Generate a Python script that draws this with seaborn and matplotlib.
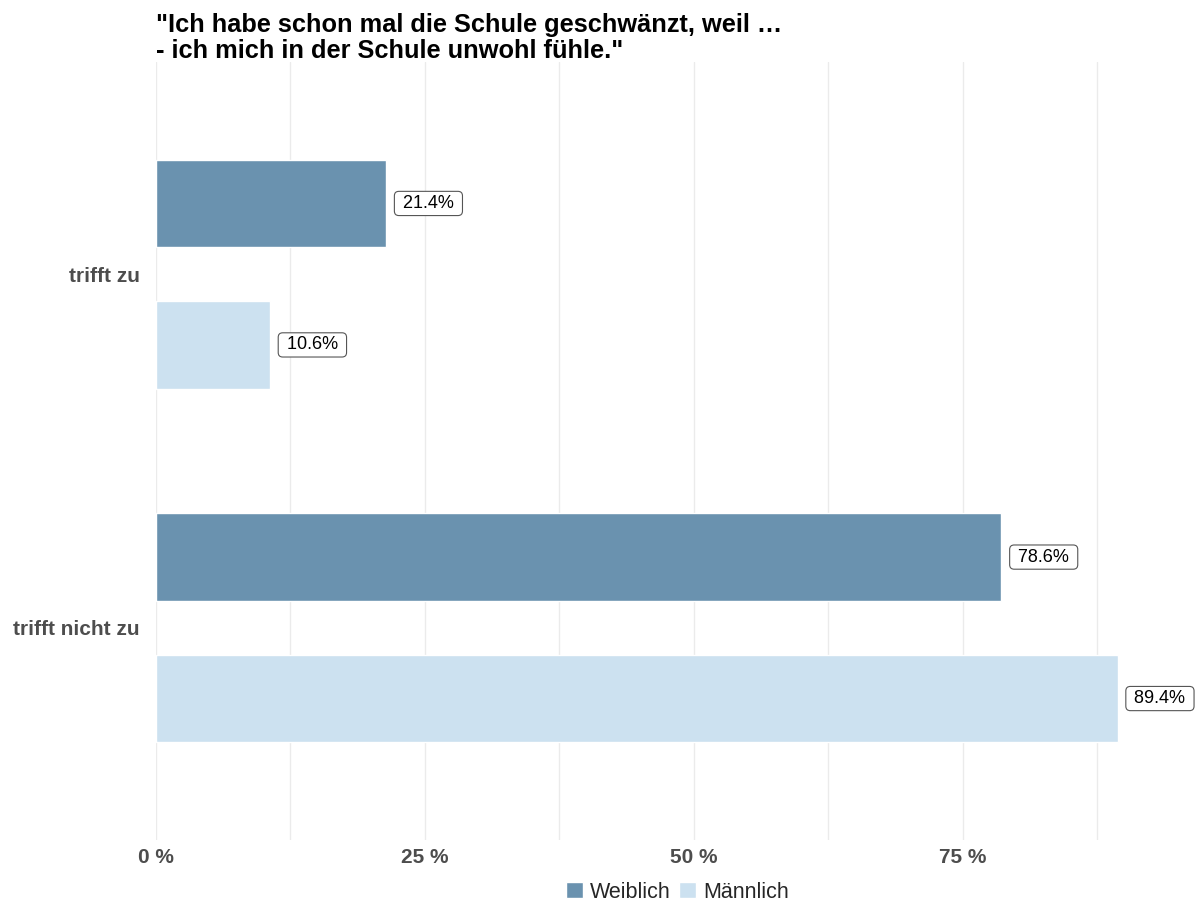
import matplotlib
matplotlib.use("Agg")
import matplotlib.pyplot as plt
import seaborn as sns
import pandas as pd
from matplotlib.ticker import MultipleLocator

categories = ["trifft zu", "trifft nicht zu"]
groups = ["Weiblich", "Männlich"]
weiblich = [21.4, 78.6]
maennlich = [10.6, 89.4]
tick_values = [0, 25, 50, 75]
tick_labels = ["0 %", "25 %", "50 %", "75 %"]
title_lines = ["\"Ich habe schon mal die Schule geschwänzt, weil …",
               "- ich mich in der Schule unwohl fühle.\""]

df = pd.DataFrame({
    "Antwort": categories * 2,
    "Geschlecht": [groups[0]] * len(categories) + [groups[1]] * len(categories),
    "Anteil": weiblich + maennlich,
})

sns.set_theme(style="white")
plt.rcParams["font.family"] = ["Liberation Sans", "DejaVu Sans"]

palette = {"Weiblich": "#6A92AF", "Männlich": "#CCE1F0"}

W, H = 1198, 902
fig = plt.figure(figsize=(W / 100, H / 100), dpi=100)
ax = fig.add_axes([156 / W, 1 - 840 / H, (1194 - 156) / W, (840 - 62) / H])

sns.barplot(data=df, x="Anteil", y="Antwort", hue="Geschlecht", order=categories,
            hue_order=groups, palette=palette, orient="h", width=0.8, gap=0.38,
            saturation=1, ax=ax, legend=True, zorder=2)

ax.set_xlim(0, 96.5)
ax.set_ylim(1.6, -0.6)

# value labels in rounded boxes next to each bar
for container in ax.containers:
    for bar in container:
        val = bar.get_width()
        yc = bar.get_y() + bar.get_height() / 2
        ax.annotate(f" {val:.1f}% ", xy=(val, yc), xytext=(8.5, 0), textcoords="offset points",
                    ha="left", va="center", fontsize=13, color="black", zorder=4,
                    bbox=dict(boxstyle="round,pad=0.2,rounding_size=0.25", fc="white",
                              ec="#555555", lw=0.8))

ax.xaxis.set_minor_locator(MultipleLocator(12.5))
ax.set_xticks(tick_values)
ax.set_xticklabels(tick_labels)
ax.grid(axis="x", which="both", color="#EBEBEB", lw=1, zorder=0)
ax.grid(axis="y", visible=False)
ax.set_axisbelow(True)
for s in ax.spines.values():
    s.set_visible(False)
ax.tick_params(axis="y", which="both", length=0, pad=11.5)
ax.tick_params(axis="x", which="both", length=0, pad=6)
for lbl in ax.get_xticklabels() + ax.get_yticklabels():
    lbl.set_fontweight("bold")
    lbl.set_color("#4D4D4D")
    lbl.set_fontsize(15)
ax.set_xlabel("")
ax.set_ylabel("")

# two-line title, left-aligned with the panel
for line, baseline in zip(title_lines, [32, 58]):
    fig.text(156 / W, 1 - baseline / H, line, ha="left", va="baseline",
             fontsize=18.3, fontweight="bold", color="black")

leg = ax.legend(loc="center", bbox_to_anchor=(0.502, -0.067), ncol=2, frameon=False,
                fontsize=15.5, handlelength=0.8, handleheight=0.8, handletextpad=0.33,
                columnspacing=0.37)
leg.set_title(None)

fig.savefig("out.png", dpi=100)
